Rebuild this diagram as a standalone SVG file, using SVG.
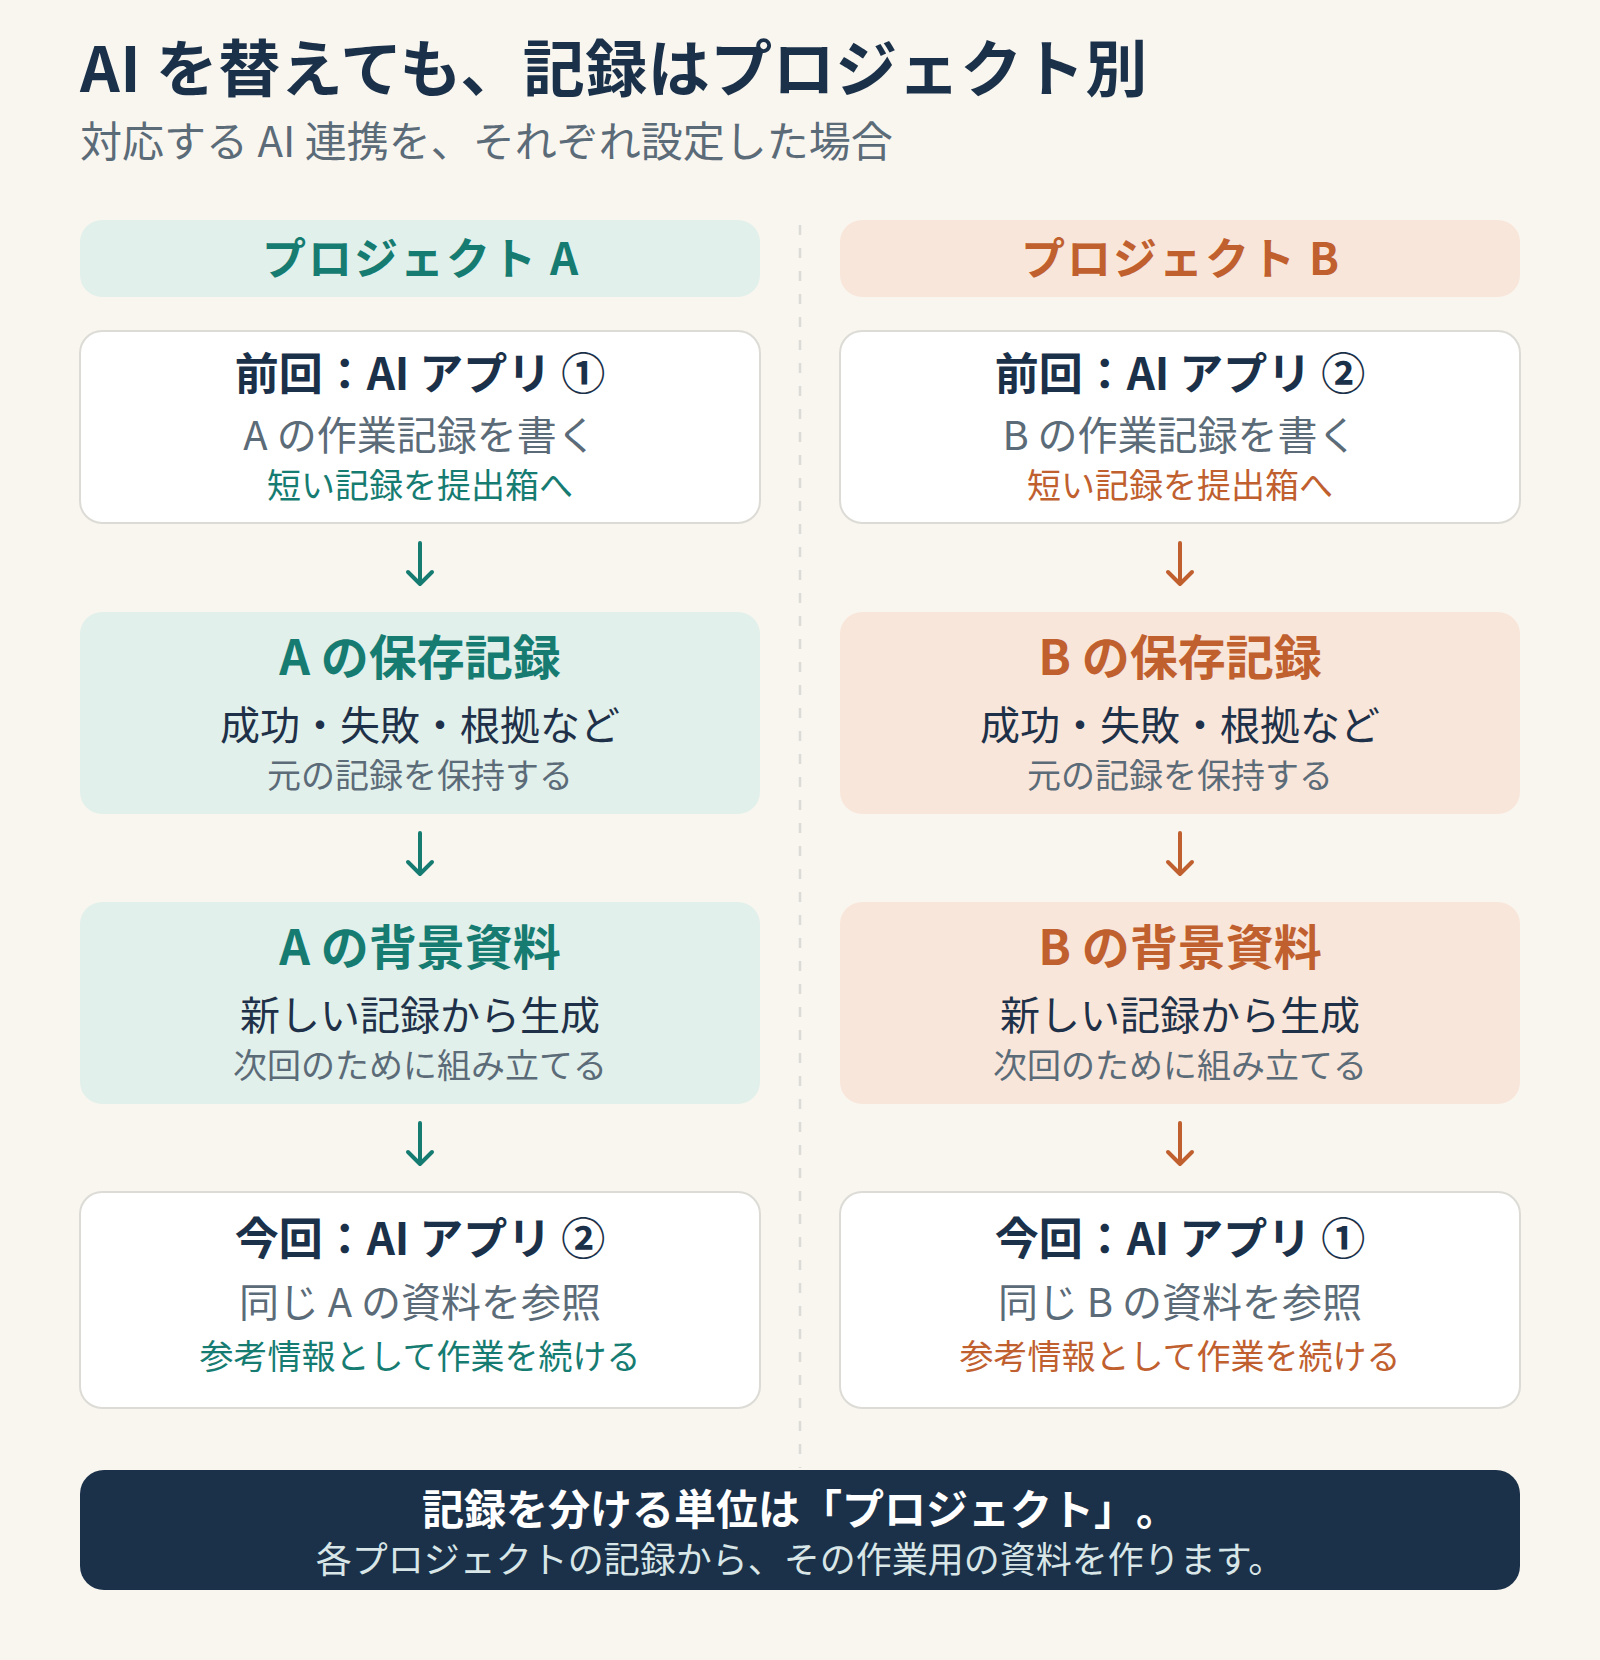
<svg xmlns="http://www.w3.org/2000/svg" width="1600" height="1660" viewBox="0 0 1600 1660">
<defs>
<style>
text{font-family:"Noto Sans CJK JP","Noto Sans",sans-serif;}
.title{font-size:62px;font-weight:700;fill:#1b3149;letter-spacing:0.5px;}
.sub{font-size:42px;fill:#5b6b78;}
.c{text-anchor:middle;}
.hdr{font-size:44px;font-weight:700;letter-spacing:2px;}
.h1{font-size:44px;font-weight:700;fill:#1b3149;}
.h2{font-size:48px;font-weight:700;}
.l2g{font-size:40px;fill:#5b6b78;}
.l2d{font-size:40px;fill:#1e3148;}
.l3{font-size:34px;}
.l3g{font-size:34px;fill:#5b6b78;}
.ta{fill:#167c72;}
.tb{fill:#c0602f;}
.wbox{fill:#ffffff;stroke:#dcdbd5;stroke-width:2;}
.fa{fill:#e2f0eb;}
.fb{fill:#f9e6da;}
.arA{stroke:#167c72;}
.arB{stroke:#c0602f;}
.ar{fill:none;stroke-width:4;stroke-linecap:round;stroke-linejoin:round;}
.sumt{font-size:42px;font-weight:700;fill:#ffffff;text-spacing-trim:space-all;}
.sums{font-size:36px;fill:#d8e6e8;}
</style>
</defs>
<rect x="0" y="0" width="1600" height="1660" fill="#f9f6f0"/>
<text class="title" x="80" y="92">AI を替えても、記録はプロジェクト別</text>
<text class="sub" x="80" y="157">対応する AI 連携を、それぞれ設定した場合</text>

<g id="divider">
<line x1="800" y1="225" x2="800" y2="1468" stroke="#dcdbd5" stroke-width="2.5" stroke-dasharray="10 13"/>
</g>

<g id="headerA">
<rect class="fa" x="80" y="220" width="680" height="77" rx="22"/>
<text class="hdr ta c" x="421" y="275">プロジェクト A</text>
</g>
<g id="headerB">
<rect class="fb" x="840" y="220" width="680" height="77" rx="22"/>
<text class="hdr tb c" x="1181" y="275">プロジェクト B</text>
</g>

<g id="a1">
<rect class="wbox" x="80" y="331" width="680" height="192" rx="22"/>
<text class="h1 c" x="420" y="390">前回：AI アプリ ①</text>
<text class="l2g c" x="420" y="450">A の作業記録を書く</text>
<text class="l3 ta c" x="420" y="498">短い記録を提出箱へ</text>
</g>
<g id="b1">
<rect class="wbox" x="840" y="331" width="680" height="192" rx="22"/>
<text class="h1 c" x="1180" y="390">前回：AI アプリ ②</text>
<text class="l2g c" x="1180" y="450">B の作業記録を書く</text>
<text class="l3 tb c" x="1180" y="498">短い記録を提出箱へ</text>
</g>

<g id="a2">
<rect class="fa" x="80" y="612" width="680" height="202" rx="22"/>
<text class="h2 ta c" x="420" y="675">A の保存記録</text>
<text class="l2d c" x="420" y="740">成功・失敗・根拠など</text>
<text class="l3g c" x="420" y="788">元の記録を保持する</text>
</g>
<g id="b2">
<rect class="fb" x="840" y="612" width="680" height="202" rx="22"/>
<text class="h2 tb c" x="1180" y="675">B の保存記録</text>
<text class="l2d c" x="1180" y="740">成功・失敗・根拠など</text>
<text class="l3g c" x="1180" y="788">元の記録を保持する</text>
</g>

<g id="a3">
<rect class="fa" x="80" y="902" width="680" height="202" rx="22"/>
<text class="h2 ta c" x="420" y="965">A の背景資料</text>
<text class="l2d c" x="420" y="1030">新しい記録から生成</text>
<text class="l3g c" x="420" y="1078">次回のために組み立てる</text>
</g>
<g id="b3">
<rect class="fb" x="840" y="902" width="680" height="202" rx="22"/>
<text class="h2 tb c" x="1180" y="965">B の背景資料</text>
<text class="l2d c" x="1180" y="1030">新しい記録から生成</text>
<text class="l3g c" x="1180" y="1078">次回のために組み立てる</text>
</g>

<g id="a4">
<rect class="wbox" x="80" y="1192" width="680" height="216" rx="22"/>
<text class="h1 c" x="420" y="1255">今回：AI アプリ ②</text>
<text class="l2g c" x="420" y="1317">同じ A の資料を参照</text>
<text class="l3 ta c" x="420" y="1369">参考情報として作業を続ける</text>
</g>
<g id="b4">
<rect class="wbox" x="840" y="1192" width="680" height="216" rx="22"/>
<text class="h1 c" x="1180" y="1255">今回：AI アプリ ①</text>
<text class="l2g c" x="1180" y="1317">同じ B の資料を参照</text>
<text class="l3 tb c" x="1180" y="1369">参考情報として作業を続ける</text>
</g>

<g id="connectors">
<g class="ar arA">
<path d="M420 543V584M408 572L420 584L432 572"/>
<path d="M420 833V874M408 862L420 874L432 862"/>
<path d="M420 1123V1164M408 1152L420 1164L432 1152"/>
</g>
<g class="ar arB">
<path d="M1180 543V584M1168 572L1180 584L1192 572"/>
<path d="M1180 833V874M1168 862L1180 874L1192 862"/>
<path d="M1180 1123V1164M1168 1152L1180 1164L1192 1152"/>
</g>
</g>

<g id="summary">
<rect x="80" y="1470" width="1440" height="120" rx="24" fill="#1b3149"/>
<text class="sumt c" x="800" y="1525">記録を分ける単位は「プロジェクト」。</text>
<text class="sums c" x="800" y="1573">各プロジェクトの記録から、その作業用の資料を作ります。</text>
</g>
</svg>
